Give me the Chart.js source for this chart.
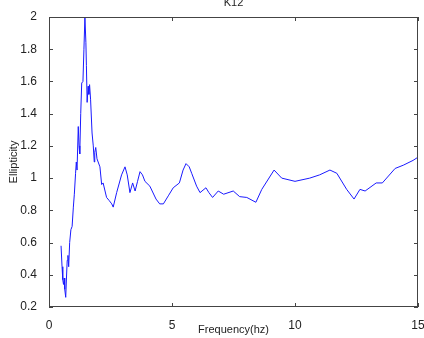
<!DOCTYPE html>
<html lang="en">
<head>
    <meta charset="UTF-8">
    <title>K12</title>
    <script src="https://cdn.jsdelivr.net/npm/chart.js"></script>
    <style>
        html, body {
            margin: 0;
            padding: 0;
            background: #ffffff;
        }

        #wrap {
            width: 424px;
            height: 338px;
        }
    </style>
</head>
<body>
<div id="wrap">
    <canvas id="ellChart" width="424" height="338"></canvas>
</div>

<script>
    // values
    const freq = [0.49, 0.53, 0.56, 0.59, 0.62, 0.64, 0.68, 0.71, 0.74, 0.77, 0.80, 0.84, 0.89, 0.94, 0.99,
        1.03, 1.08, 1.11, 1.14, 1.19, 1.22, 1.25, 1.29, 1.33, 1.38, 1.42, 1.46, 1.50, 1.52, 1.55, 1.59,
        1.62, 1.65, 1.69, 1.75, 1.80, 1.84, 1.86, 1.90, 1.95, 2.07, 2.14, 2.20, 2.34, 2.45, 2.55, 2.61,
        2.75, 2.95, 3.09, 3.18, 3.29, 3.40, 3.50, 3.60, 3.70, 3.80, 3.90, 4.10, 4.35, 4.50, 4.65, 4.85,
        5.05, 5.30, 5.45, 5.57, 5.70, 5.80, 6.00, 6.14, 6.38, 6.50, 6.65, 6.88, 7.10, 7.49, 7.75, 8.04,
        8.41, 8.65, 9.15, 9.46, 10.0, 10.6, 11.0, 11.42, 11.7, 12.1, 12.4, 12.64, 12.85, 13.3, 13.55,
        14.07, 14.4, 14.8, 15.0];
    const ellipticity = [0.58, 0.45, 0.37, 0.34, 0.38, 0.31, 0.26, 0.38, 0.49, 0.52, 0.45, 0.60, 0.68, 0.70, 0.82,
        0.90, 1.03, 1.10, 1.05, 1.32, 1.20, 1.15, 1.40, 1.59, 1.60, 1.80, 2.00, 1.84, 1.70, 1.47, 1.57,
        1.52, 1.58, 1.49, 1.28, 1.20, 1.10, 1.16, 1.19, 1.12, 1.07, 0.96, 0.97, 0.88, 0.86, 0.84, 0.82,
        0.91, 1.02, 1.07, 1.02, 0.91, 0.97, 0.92, 0.98, 1.04, 1.02, 0.98, 0.95, 0.87, 0.84, 0.84, 0.89,
        0.94, 0.97, 1.05, 1.09, 1.07, 1.03, 0.95, 0.91, 0.94, 0.91, 0.88, 0.92, 0.90, 0.92, 0.885, 0.88,
        0.85, 0.93, 1.05, 1.00, 0.98, 1.00, 1.02, 1.05, 1.03, 0.93, 0.87, 0.93, 0.92, 0.97, 0.97,
        1.06, 1.08, 1.11, 1.13];
    const xTicks = [0, 5, 10, 15];
    const yTicks = [0.2, 0.4, 0.6, 0.8, 1, 1.2, 1.4, 1.6, 1.8, 2];

    const axisColor = '#444';
    const textColor = '#222';
    const fontFamily = '"Liberation Sans", Arial, sans-serif';

    // matlab style box, inward ticks and the titles
    const matlabFrame = {
        id: 'matlabFrame',
        afterDraw(chart) {
            const ctx = chart.ctx;
            const a = chart.chartArea;
            const xs = chart.scales.x;
            const ys = chart.scales.y;
            const len = 4;
            ctx.save();
            ctx.strokeStyle = axisColor;
            ctx.lineWidth = 1;
            ctx.strokeRect(a.left + 0.5, a.top + 0.5, a.right - a.left - 1, a.bottom - a.top - 1);
            ctx.beginPath();
            xTicks.forEach(v => {
                const px = Math.round(xs.getPixelForValue(v)) + 0.5;
                ctx.moveTo(px, a.bottom);
                ctx.lineTo(px, a.bottom - len);
                ctx.moveTo(px, a.top);
                ctx.lineTo(px, a.top + len);
            });
            yTicks.forEach(v => {
                const py = Math.round(ys.getPixelForValue(v)) + 0.5;
                ctx.moveTo(a.left, py);
                ctx.lineTo(a.left + len, py);
                ctx.moveTo(a.right, py);
                ctx.lineTo(a.right - len, py);
            });
            ctx.stroke();

            ctx.fillStyle = textColor;
            ctx.font = '11px ' + fontFamily;
            ctx.textAlign = 'center';
            ctx.textBaseline = 'middle';
            ctx.fillText('K12', (a.left + a.right) / 2, 3);
            ctx.fillText('Frequency(hz)', (a.left + a.right) / 2, 330);
            ctx.translate(14, (a.top + a.bottom) / 2);
            ctx.rotate(-Math.PI / 2);
            ctx.fillText('Ellipticity', 0, 0);
            ctx.restore();
        }
    };

    new Chart(document.getElementById('ellChart').getContext('2d'), {
        type: 'line',
        data: {
            datasets: [{
                data: freq.map((f, i) => ({x: f, y: ellipticity[i]})),
                borderColor: '#1a1aff',
                borderWidth: 1,
                pointRadius: 0,
                tension: 0,
                fill: false
            }]
        },
        options: {
            responsive: false,
            animation: false,
            layout: {
                padding: {top: 17, right: 6, bottom: 0, left: 0}
            },
            plugins: {
                legend: {display: false},
                tooltip: {enabled: false}
            },
            scales: {
                x: {
                    type: 'linear',
                    min: 0,
                    max: 15,
                    afterBuildTicks: s => { s.ticks = xTicks.map(v => ({value: v})); },
                    afterFit: s => {
                        s.height = 31;
                        s.paddingLeft = 0;
                        s.paddingRight = 0;
                    },
                    grid: {display: false},
                    border: {display: false},
                    ticks: {
                        color: textColor,
                        padding: 3,
                        maxRotation: 0,
                        font: {family: fontFamily, size: 12}
                    }
                },
                y: {
                    type: 'linear',
                    min: 0.2,
                    max: 2,
                    afterBuildTicks: s => { s.ticks = yTicks.map(v => ({value: v})); },
                    afterFit: s => {
                        s.width = 49;
                        s.paddingTop = 0;
                        s.paddingBottom = 0;
                    },
                    grid: {display: false},
                    border: {display: false},
                    ticks: {
                        color: textColor,
                        padding: 4,
                        font: {family: fontFamily, size: 12},
                        callback: v => String(+v.toFixed(1))
                    }
                }
            }
        },
        plugins: [matlabFrame]
    });
</script>
</body>
</html>
